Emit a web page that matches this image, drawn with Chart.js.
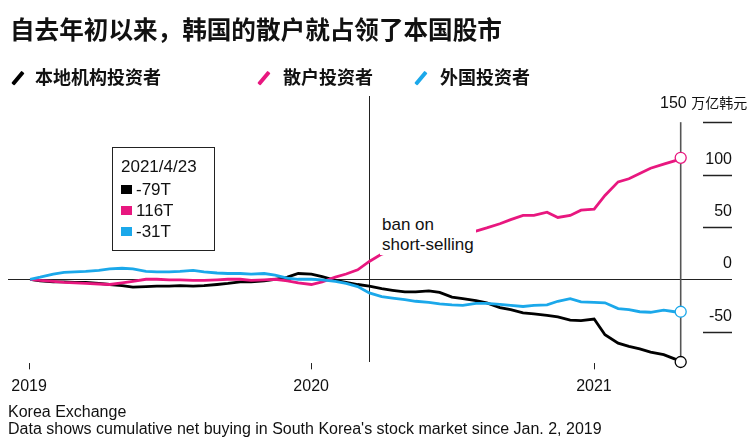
<!DOCTYPE html>
<html><head><meta charset="utf-8">
<script src="https://cdn.jsdelivr.net/npm/chart.js@4.4.0/dist/chart.umd.min.js"></script>
<style>
html,body{margin:0;padding:0;background:#fff;}
body{width:749px;height:443px;position:relative;overflow:hidden;font-family:"Liberation Sans",Arial,sans-serif;color:#111;}
#c{position:absolute;left:0;top:0;}
.t{position:absolute;white-space:nowrap;line-height:1;}
.cjk{font-family:"Noto Sans CJK SC",sans-serif;}
.sl{position:absolute;width:3.5px;height:16px;transform:rotate(40deg);border-radius:1px;}
.sq{display:inline-block;width:11px;height:9px;margin-right:4px;vertical-align:middle;position:relative;top:-1px;}
</style></head><body>
<canvas id="c" width="749" height="443"></canvas>
<div class="t cjk" style="left:10px;top:16px;font-size:24.6px;font-weight:bold;color:#111;">自去年初以来，韩国的散户就占领了本国股市</div>
<span class="sl" style="left:16px;top:70px;background:#000"></span>
<div class="t cjk" style="left:35px;top:67px;font-size:18px;font-weight:bold;">本地机构投资者</div>
<span class="sl" style="left:262px;top:70px;background:#e8177f"></span>
<div class="t cjk" style="left:283px;top:67px;font-size:18px;font-weight:bold;">散户投资者</div>
<span class="sl" style="left:419px;top:70px;background:#1ba8ea"></span>
<div class="t cjk" style="left:440px;top:67px;font-size:18px;font-weight:bold;">外国投资者</div>
<div id="box" class="t" style="left:112px;top:147px;width:101px;height:102px;border:1px solid #222;font-size:17px;">
  <div style="position:absolute;left:8px;top:10px;">2021/4/23</div>
  <div id="r0" style="position:absolute;left:8px;top:33px;"></div>
  <div id="r1" style="position:absolute;left:8px;top:54px;"></div>
  <div id="r2" style="position:absolute;left:8px;top:75px;"></div>
</div>
<div class="t" style="left:380px;top:215px;font-size:17px;background:#fff;line-height:20px;padding:0 2px;">ban on<br>short-selling</div>
<div class="t" style="left:8px;top:404px;font-size:16px;">Korea Exchange</div>
<div class="t" style="left:8px;top:421px;font-size:16px;">Data shows cumulative net buying in South Korea's stock market since Jan. 2, 2019</div>
<div id="labels"></div>
<script>
const dates = ['2019-01-02','2019-01-15','2019-02-01','2019-02-15','2019-03-01','2019-03-15','2019-04-01','2019-04-15','2019-05-01','2019-05-15','2019-06-01','2019-06-15','2019-07-01','2019-07-15','2019-08-01','2019-08-15','2019-09-01','2019-09-15','2019-10-01','2019-10-15','2019-11-01','2019-11-15','2019-12-01','2019-12-15','2020-01-01','2020-01-15','2020-02-01','2020-02-15','2020-03-01','2020-03-16','2020-04-01','2020-04-15','2020-05-01','2020-05-15','2020-06-01','2020-06-15','2020-07-01','2020-07-15','2020-08-01','2020-08-15','2020-09-01','2020-09-15','2020-10-01','2020-10-15','2020-11-01','2020-11-15','2020-12-01','2020-12-15','2021-01-01','2021-01-15','2021-02-01','2021-02-15','2021-03-01','2021-03-15','2021-04-01','2021-04-15','2021-04-23'];
const institutions = [0,-1.5,-2.5,-2.5,-3,-3,-4,-5,-6,-7.5,-7,-6.5,-6.5,-6,-6.5,-6,-5,-4,-2.5,-2.5,-1.5,0,2,5.5,5,2.5,-1,-3,-5,-6.5,-9,-10.5,-12,-12,-11,-12.5,-17,-18.5,-20.5,-22.5,-27,-29,-32,-33,-34.5,-36,-39,-39.5,-38,-53,-61,-64,-66.5,-69.5,-72,-76,-79];
const retail = [0,-1,-2,-3,-3.5,-4,-4.5,-5,-3.5,-2,0,0,-0.5,-0.5,-1,-1,-0.5,0,0,-1,-0.5,0,-1.5,-3.5,-5,-2.5,2,5,9,17,24,27,29,32,35,38,40,42.5,46,49,53,57,61,61,64,59,61,66,67,80,93,96,101,106,110,113,116];
const foreign = [0,2,5,6.5,7,7.5,8.5,10,10.5,10,7.5,7,7,7.5,8.5,7,6,5.5,5.5,5,5.5,4,1,0,0,-0.5,-2,-4,-7,-13,-16.5,-18,-19.5,-21,-22,-23.5,-24.5,-25,-23,-23,-24,-25,-26,-25,-24.5,-21,-18.5,-21.5,-22,-22.5,-28,-29,-31,-31.5,-29.5,-31,-31];
const yTickValues = [150,100,50,0,-50];
const yUnit = '万亿韩元';
const xTickLabels = ['2019','2020','2021'];
const xTickDates = ['2019-01-01','2020-01-01','2021-01-01'];
const banDate = '2020-03-16';
const seriesNames = ['本地机构投资者','散户投资者','外国投资者'];
const colors = ['#000000','#e8177f','#1ba8ea'];

const dayOf = s => { const [y,m,d] = s.split('-').map(Number); return (Date.UTC(y,m-1,d) - Date.UTC(2019,0,1)) / 86400000; };
const xs = dates.map(dayOf);
const pts = arr => arr.map((v,i) => ({x: xs[i], y: v}));
const last = xs.length - 1;

const guides = {
  id: 'guides',
  beforeDatasetsDraw(chart) {
    const {ctx, chartArea: a, scales: {x, y}} = chart;
    ctx.save();
    ctx.strokeStyle = '#222'; ctx.lineWidth = 1;
    const y0 = Math.round(y.getPixelForValue(0)) + 0.5;
    ctx.beginPath(); ctx.moveTo(a.left, y0); ctx.lineTo(a.right, y0); ctx.stroke();
    ctx.lineWidth = 1.5;
    yTickValues.filter(v => v !== 0).forEach(v => {
      const py = Math.round(y.getPixelForValue(v)) + 0.5;
      ctx.beginPath(); ctx.moveTo(a.right - 29, py); ctx.lineTo(a.right, py); ctx.stroke();
    });
    const bottomV = Math.min(...institutions);
    ctx.lineWidth = 1; ctx.strokeStyle = '#222';
    const bx = Math.round(x.getPixelForValue(dayOf(banDate))) + 0.5;
    ctx.beginPath(); ctx.moveTo(bx, a.top); ctx.lineTo(bx, y.getPixelForValue(bottomV)); ctx.stroke();
    ctx.lineWidth = 1.6; ctx.strokeStyle = '#555';
    const ex = x.getPixelForValue(xs[last]);
    ctx.beginPath(); ctx.moveTo(ex, y.getPixelForValue(150)); ctx.lineTo(ex, y.getPixelForValue(bottomV)); ctx.stroke();
    ctx.lineWidth = 1; ctx.strokeStyle = '#222';
    xTickDates.forEach(d => {
      const px = Math.round(x.getPixelForValue(dayOf(d))) + 0.5;
      ctx.beginPath(); ctx.moveTo(px, y.getPixelForValue(-80)); ctx.lineTo(px, y.getPixelForValue(-86)); ctx.stroke();
    });
    ctx.restore();
  }
};

const mk = (i, arr, order) => ({
  label: seriesNames[i], data: pts(arr), borderColor: colors[i], borderWidth: 2.8,
  tension: 0, order,
  pointRadius: c => c.dataIndex === last ? 5.5 : 0,
  pointBackgroundColor: '#fff', pointBorderColor: colors[i], pointBorderWidth: 1.3,
  clip: false
});

const chart = new Chart(document.getElementById('c'), {
  type: 'line',
  data: { datasets: [mk(0, institutions, 3), mk(1, retail, 2), mk(2, foreign, 1)] },
  options: {
    responsive: false, animation: false, devicePixelRatio: 1,
    layout: { padding: { left: 8, right: 17, top: 96, bottom: 59 } },
    plugins: { legend: { display: false }, tooltip: { enabled: false } },
    scales: {
      x: { type: 'linear', min: -27.6, max: 909.4, display: false },
      y: { type: 'linear', min: -100, max: 175, display: false }
    }
  },
  plugins: [guides]
});

const L = document.getElementById('labels');
const sx = chart.scales.x, sy = chart.scales.y, area = chart.chartArea;
yTickValues.forEach(v => {
  const d = document.createElement('div');
  d.className = 't';
  d.style.fontSize = '16px';
  const py = sy.getPixelForValue(v);
  if (v === 150) {
    d.innerHTML = v + ' <span class="cjk" style="font-size:14px">' + yUnit + '</span>';
    d.style.left = (area.right - 72) + 'px';
    d.style.top = (py - 27) + 'px';
  } else {
    d.textContent = v;
    d.style.right = (749 - area.right) + 'px';
    d.style.top = (py - 24) + 'px';
  }
  L.appendChild(d);
});
xTickDates.forEach((dt, i) => {
  const d = document.createElement('div');
  d.className = 't';
  d.style.fontSize = '16px';
  d.textContent = xTickLabels[i];
  d.style.left = (sx.getPixelForValue(dayOf(dt)) - 18) + 'px';
  d.style.top = '378px';
  L.appendChild(d);
});
[institutions, retail, foreign].forEach((arr, i) => {
  document.getElementById('r' + i).innerHTML = '<span class="sq" style="background:' + colors[i] + '"></span>' + Math.round(arr[last]) + 'T';
});
</script>
</body></html>
